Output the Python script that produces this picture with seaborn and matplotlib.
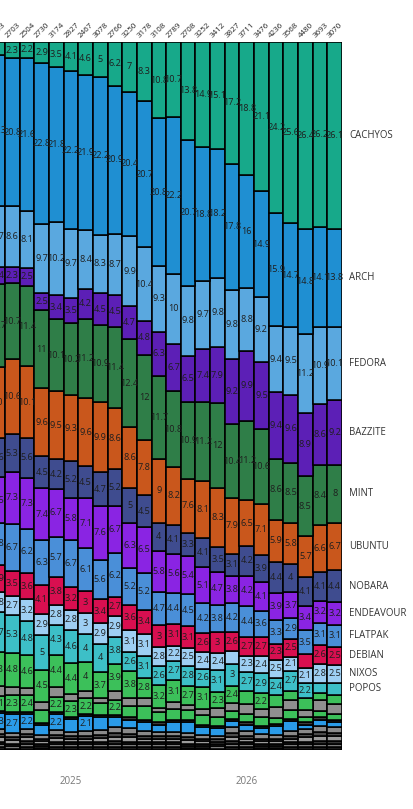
import numpy as np
import pandas as pd
import matplotlib
matplotlib.use("Agg")
import matplotlib.pyplot as plt
import seaborn as sns

# ---------------- data (percent share per month) ----------------
bars = list(range(24))
totals = [2753, 2703, 2504, 2730, 3174, 2827, 2467, 3078, 2766, 3250, 3178, 3108,
          2789, 2708, 3252, 3412, 3827, 3711, 3476, 4236, 3568, 4480, 3693, 3070]
year_ticks = [5, 17]
year_labels = ["2025", "2026"]

cachyos = [1.8, 2.3, 2.2, 2.9, 3.5, 4.1, 4.6, 5, 6.2, 7, 8.3, 10.8, 10.7, 13.8, 14.9, 15.1, 17.2, 18.8, 21.1, 24.2, 25.6, 26.4, 26.2, 26.1]
arch = [21.3, 20.8, 21.6, 22.8, 21.8, 22.2, 21.9, 22.2, 20.9, 20.4, 20.7, 20.8, 22.2, 20.7, 18.8, 18.2, 17.8, 16, 14.9, 15.9, 14.7, 14.8, 14.1, 13.8]
fedora = [8.7, 8.6, 8.1, 9.7, 10.2, 9.7, 8.4, 8.3, 8.7, 9.9, 10.4, 9.3, 10, 9.8, 9.7, 9.8, 9.8, 8.8, 9.2, 9.4, 9.5, 11.2, 10.9, 10.1]
bazzite = [2.4, 2.3, 2.5, 2.5, 3.4, 3.5, 4.2, 4.5, 4.5, 4.7, 4.8, 6.3, 6.7, 6.5, 7.4, 7.9, 9.2, 9.9, 9.5, 9.4, 9.6, 8.9, 8.6, 9.2]
mint = [11.7, 10.7, 11.4, 11, 10.1, 10.2, 11.2, 10.9, 11.4, 12.4, 12, 11.7, 10.8, 10.9, 11.2, 12, 10.4, 11.2, 10.6, 8.6, 8.5, 8.5, 8.4, 8]
ubuntu = [10.0, 10.6, 10.1, 9.6, 9.5, 9.3, 9.6, 9.9, 8.6, 8.6, 7.8, 9, 8.2, 7.6, 8.1, 8.3, 7.9, 6.5, 7.1, 5.9, 5.8, 5.7, 6.6, 6.7]
nobara = [5.6, 5.3, 5.6, 4.5, 4.2, 5.2, 4.5, 4.7, 5.2, 5, 4.5, 4, 4.1, 3.3, 4.1, 3.5, 3.1, 4.2, 3.9, 4.4, 4, 4.1, 4.1, 4.4]
endeavour = [6.5, 7.3, 7.3, 7.4, 6.7, 5.8, 7.1, 7.6, 6.7, 6.3, 6.5, 5.8, 5.6, 5.4, 5.1, 4.7, 3.8, 4.2, 4.1, 3.9, 3.7, 3.4, 3.2, 3.2]
flatpak = [5.8, 6.7, 6.2, 6.3, 5.7, 6.7, 6.1, 5.6, 6.2, 5.2, 5.2, 4.7, 4.4, 4.5, 4.2, 3.8, 4.2, 4.4, 3.6, 3.3, 2.9, 3.5, 3.1, 3.1]
debian = [3.9, 3.5, 3.6, 4.1, 3.8, 3.2, 3, 3.4, 2.7, 3.6, 3.4, 3, 3.1, 3.1, 2.6, 3, 2.6, 2.7, 2.7, 2.3, 2.5, 1.9, 2.6, 2.5]
nixos = [2.8, 2.7, 3.2, 2.9, 2.8, 2.8, 3, 2.9, 2.9, 3.1, 3.1, 2.8, 2.2, 2.5, 2.4, 2.4, 1.9, 2.3, 2.4, 2.5, 2.1, 2.1, 2.8, 2.5]
popos = [5.7, 5.3, 4.8, 5, 4.3, 4.6, 4, 4, 3.8, 2.6, 3.1, 2.6, 2.7, 2.8, 2.6, 3.1, 3, 2.7, 2.9, 2.4, 2.7, 2.2, 1.4, 1.7]
# smaller, unnamed distributions at the bottom of each bar
other_a = [4.8, 4.8, 4.6, 4.5, 4.4, 4.4, 4, 3.7, 3.9, 3.8, 2.8, 3.2, 3.1, 2.7, 3.1, 2.3, 2.4, 1.8, 2.2, 1.7, 1.4, 1.7, 0.9, 1.3]
other_b = [1.4, 1.2, 0.95, 1.1, 1.4, 1.0, 1.1, 0.7, 1.2, 1.2, 1.2, 0.7, 1.0, 0.7, 0.9, 1.2, 1.2, 1.4, 1.2, 1.6, 1.3, 0.9, 1.6, 1.3]
other_c = [2.1, 2.3, 2.4, 1.9, 2.2, 2.3, 2.2, 1.6, 2.2, 1.6, 1.9, 1.4, 1.5, 1.4, 1.3, 1.3, 1.1, 1.2, 1.2, 0.8, 1.3, 0.8, 0.9, 0.9]
other_d = [0.3, 0.3, 0.3, 0.3, 0.3, 0.3, 0.3, 0.3, 0.3, 0.3, 0.3, 0.3, 0.3, 0.3, 0.3, 0.3, 0.3, 0.3, 0.3, 0.3, 0.3, 0.3, 0.3, 0.3]
other_e = [2.3, 2.7, 2.2, 1.4, 2.2, 1.7, 2.1, 1.9, 1.4, 1.2, 1.3, 1.0, 1.4, 1.6, 1.2, 1.1, 0.9, 0.9, 0.9, 1.3, 1.4, 0.7, 0.9, 0.7]
other_f = [0.7, 0.6, 0.7, 0.5, 0.7, 0.6, 0.7, 0.7, 0.8, 0.8, 0.7, 0.6, 0.6, 0.6, 0.5, 0.5, 0.8, 0.7, 0.6, 0.5, 0.7, 0.7, 0.9, 0.8]
other_g = [0.4, 0.4, 0.4, 0.3, 0.4, 0.4, 0.4, 0.4, 0.5, 0.5, 0.4, 0.4, 0.4, 0.4, 0.3, 0.3, 0.5, 0.4, 0.3, 0.3, 0.4, 0.4, 0.5, 0.5]
other_h = [0.6, 0.5, 0.6, 0.4, 0.6, 0.5, 0.5, 0.6, 0.6, 0.6, 0.5, 0.5, 0.5, 0.5, 0.4, 0.4, 0.6, 0.5, 0.4, 0.4, 0.5, 0.6, 0.7, 0.6]
other_i = [0.3, 0.3, 0.4, 0.3, 0.3, 0.3, 0.3, 0.3, 0.4, 0.4, 0.3, 0.3, 0.3, 0.3, 0.3, 0.3, 0.4, 0.3, 0.3, 0.3, 0.3, 0.4, 0.4, 0.4]
other_j = [0.5, 0.4, 0.4, 0.3, 0.4, 0.4, 0.4, 0.4, 0.5, 0.4, 0.4, 0.4, 0.4, 0.3, 0.3, 0.3, 0.5, 0.4, 0.3, 0.3, 0.4, 0.4, 0.5, 0.5]
other_k = [0.4, 0.2, 0.4, 0.3, 0.4, 0.4, 0.4, 0.4, 0.4, 0.4, 0.4, 0.4, 0.4, 0.3, 0.3, 0.2, 0.4, 0.4, 0.3, 0.3, 0.4, 0.4, 0.4, 0.4]

named = ["CACHYOS", "ARCH", "FEDORA", "BAZZITE", "MINT", "UBUNTU", "NOBARA",
         "ENDEAVOUR", "FLATPAK", "DEBIAN", "NIXOS", "POPOS"]
series = {
    "CACHYOS": cachyos, "ARCH": arch, "FEDORA": fedora, "BAZZITE": bazzite,
    "MINT": mint, "UBUNTU": ubuntu, "NOBARA": nobara, "ENDEAVOUR": endeavour,
    "FLATPAK": flatpak, "DEBIAN": debian, "NIXOS": nixos, "POPOS": popos,
    "o_a": other_a, "o_b": other_b, "o_c": other_c, "o_d": other_d, "o_e": other_e,
    "o_f": other_f, "o_g": other_g, "o_h": other_h, "o_i": other_i, "o_j": other_j,
    "o_k": other_k,
}
colors = {
    "CACHYOS": "#17a98a", "ARCH": "#1f8fd2", "FEDORA": "#5aa8df", "BAZZITE": "#5c1fb6",
    "MINT": "#2f7e48", "UBUNTU": "#c9571c", "NOBARA": "#3f4c8f", "ENDEAVOUR": "#8a24e3",
    "FLATPAK": "#4a8fd8", "DEBIAN": "#d80f50", "NIXOS": "#9ecff3", "POPOS": "#3dbfc7",
    "o_a": "#3cc05a", "o_b": "#8f8f8f", "o_c": "#3cc05a", "o_d": "#3a3a3a", "o_e": "#2a9be8",
    "o_f": "#8a8a8a", "o_g": "#4a4a4a", "o_h": "#9b9b9b", "o_i": "#333333", "o_j": "#7a7a7a",
    "o_k": "#1a1a1a",
}
order = list(series.keys())

rows = []
for cat in order:
    for b, v in zip(bars, series[cat]):
        rows.append({"bar": b, "cat": cat, "value": v})
df = pd.DataFrame(rows)

# ---------------- plotting ----------------
sns.set_theme(style="white")
plt.rcParams["font.family"] = ["Open Sans", "DejaVu Sans"]

W, H = 414, 809
fig = plt.figure(figsize=(W / 100, H / 100), dpi=100)
ax_left_px, ax_right_px, ax_top_px, ax_bot_px = -9.65, 342.0, 42.0, 750.0
ax = fig.add_axes([ax_left_px / W, (H - ax_bot_px) / H,
                   (ax_right_px - ax_left_px) / W, (ax_bot_px - ax_top_px) / H])

sns.histplot(data=df, x="bar", weights="value", hue="cat", hue_order=order,
             palette=colors, multiple="fill", discrete=True, shrink=1.0,
             edgecolor="black", linewidth=1.15, alpha=1.0, legend=False, ax=ax)

ax.set_xlim(-0.5, 23.5)
ax.set_ylim(0, 1)
ax.set_yticks([])
ax.set_xlabel("")
ax.set_ylabel("")
for s in ax.spines.values():
    s.set_visible(False)
ax.set_xticks(year_ticks)
ax.set_xticklabels(year_labels)
ax.tick_params(axis="x", length=0, pad=18.5, labelsize=7.0, labelcolor="#777777")

# segment labels (centered in each stacked piece)
mat = np.array([series[c] for c in order], dtype=float)
colsum = mat.sum(axis=0)
for b in bars:
    top = 1.0
    for k, cat in enumerate(order):
        v = mat[k, b]
        h = v / colsum[b]
        center = top - h / 2
        if v >= 2:
            ax.text(b, center, f"{v:g}", ha="center", va="center", fontsize=6.6,
                    color="#1e1e1e", clip_on=False)
        if b == bars[-1] and cat in named:
            ax.text(23.5 + 0.48, center, cat, ha="left", va="center", fontsize=6.9,
                    color="#333333", clip_on=False)
        top -= h

# totals above bars
for b, t in zip(bars, totals):
    ax.text(b - 0.4, 1.007, str(t), rotation=45, rotation_mode="anchor",
            ha="left", va="center", fontsize=5.8, color="#222222", clip_on=False,
            transform=ax.transData)

fig.savefig("out.png", dpi=100)
